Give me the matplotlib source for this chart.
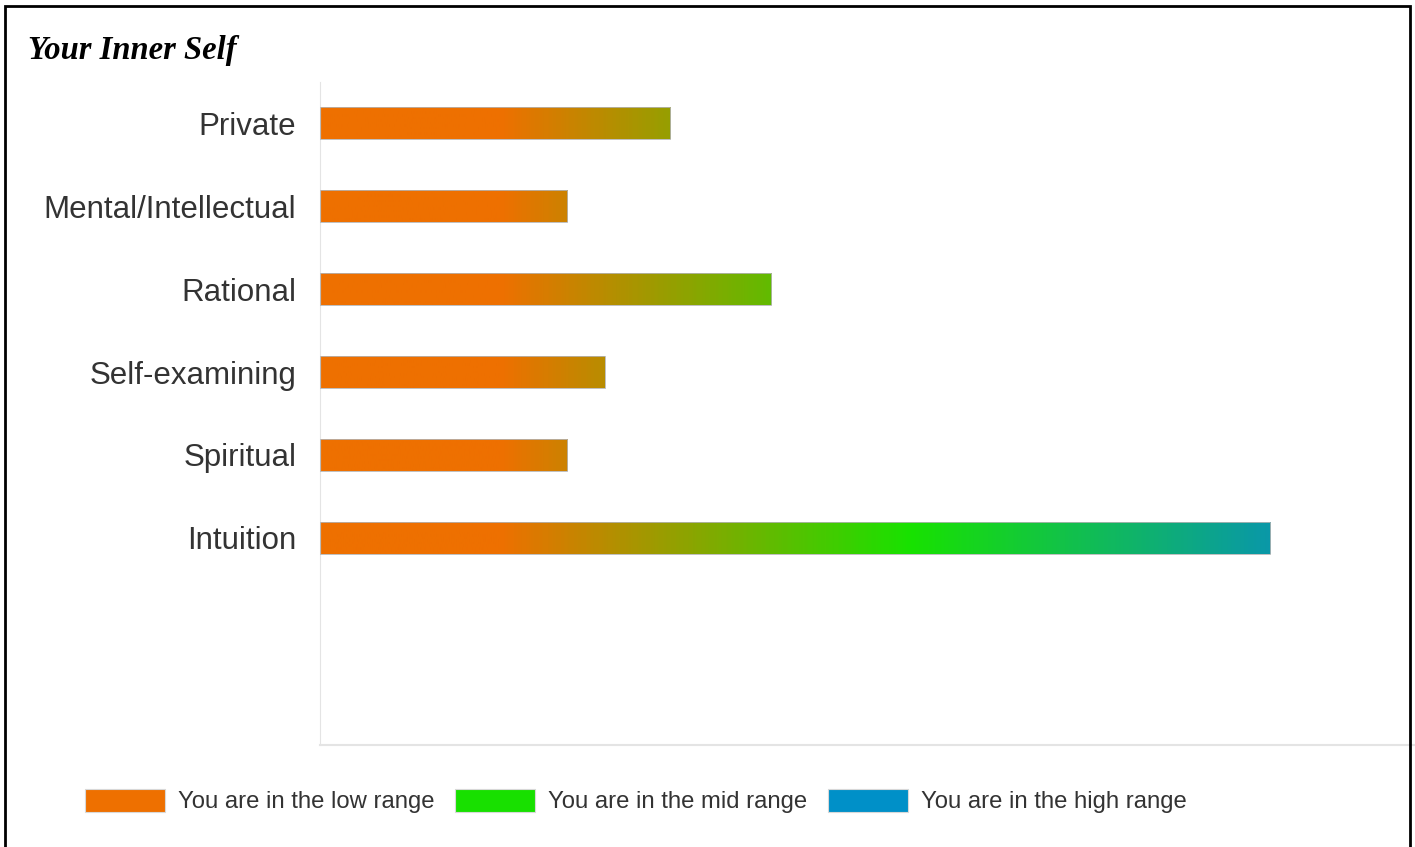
import numpy as np
import matplotlib
matplotlib.use("Agg")
import matplotlib.pyplot as plt
from matplotlib.colors import LinearSegmentedColormap
from matplotlib.patches import Patch, Rectangle

categories = ['Private', 'Mental/Intellectual', 'Rational', 'Self-examining', 'Spiritual', 'Intuition']
scores = [32.0, 22.6, 41.2, 26.0, 22.6, 86.8]
legend_labels = ['You are in the low range', 'You are in the mid range', 'You are in the high range']
legend_colors = ['#ee7000', '#18e000', '#0090c8']

# gradient runs along the x axis (same for all bars)
grad_stops = [0.0, 16.4, 53.9, 86.8, 100.0]
grad_colors = ['#ee7000', '#ee7000', '#18e200', '#0a98a8', '#0a98a8']
cmap = LinearSegmentedColormap.from_list(
    'range', [(s / 100.0, c) for s, c in zip(grad_stops, grad_colors)])

plt.rcParams['font.family'] = ['Liberation Sans', 'DejaVu Sans']

fig = plt.figure(figsize=(14.15, 8.47), dpi=100)
ax = fig.add_axes([320 / 1415, 1 - 745 / 847, 1 - 320 / 1415, (745 - 82) / 847])

y = np.arange(len(categories))
bars = ax.barh(y, scores, height=0.385, facecolor='none', edgecolor='#b4b4b4', linewidth=0.6, zorder=3)
grad = np.linspace(0, 1, 600).reshape(1, -1)
for b in bars:
    im = ax.imshow(grad, cmap=cmap, aspect='auto', extent=(0, 100, 7.5, -0.5),
                   interpolation='bilinear', zorder=2)
    im.set_clip_path(b)

ax.set_xlim(0, 100)
ax.set_ylim(7.5, -0.5)
ax.set_yticks(y)
ax.set_yticklabels(categories, fontsize=22.5, color='#333333')
ax.tick_params(axis='y', length=0, pad=17)
ax.set_xticks([])
for s in ['top', 'right']:
    ax.spines[s].set_visible(False)
ax.spines['left'].set_color('#e4e4e4')
ax.spines['bottom'].set_color('#e4e4e4')
ax.spines['bottom'].set_linewidth(1.5)

fig.text(28 / 1415, 1 - 51 / 847, 'Your Inner Self', fontsize=23.5, fontweight='bold', fontstyle='italic',
         family='Liberation Serif', va='center', ha='left')

handles = [Patch(facecolor=c, edgecolor='#d8d8d8', linewidth=0.8) for c in legend_colors]
fig.legend(handles, legend_labels, loc='center left', bbox_to_anchor=(85 / 1415, 1 - 801 / 847),
           ncol=3, frameon=False, fontsize=17.2, handlelength=3.35, handleheight=1.1,
           handletextpad=0.55, columnspacing=0.85, borderpad=0, borderaxespad=0,
           labelcolor='#333333')

# outer frame
fig.add_artist(Rectangle((5 / 1415, -0.01), 1405 / 1415, 1 - 6 / 847 + 0.01, transform=fig.transFigure,
                         fill=False, edgecolor='black', linewidth=2))

fig.savefig('out.png', dpi=100, facecolor='white')
